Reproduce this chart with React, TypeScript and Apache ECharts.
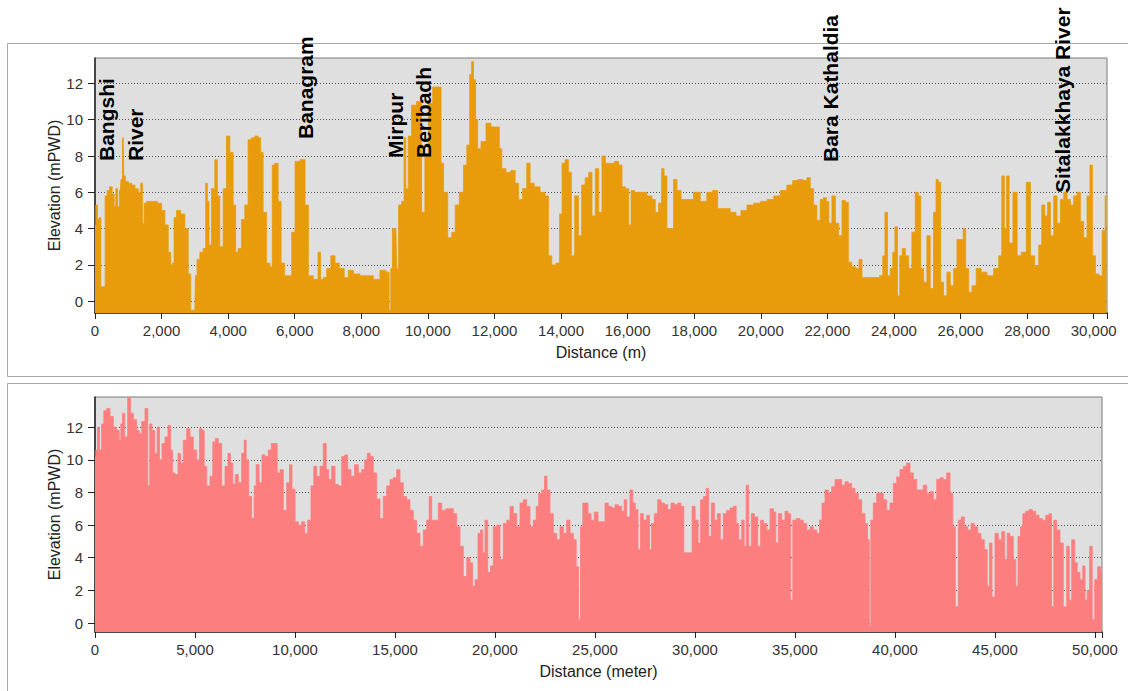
import React, { useEffect, useRef } from "react";
import * as echarts from "echarts";

// ---------- Top profile (Distance m, Elevation mPWD) ----------
const topProfileWest: [number, number][] = [
  [0, 4.2], [50, 5.3], [100, 4.5], [150, 4.6], [200, 0.8], [280, 0.8], [330, 5.8], [400, 6.1], [480, 6.3], [550, 5.9],
  [600, 5.2], [650, 6.2], [700, 5.2], [760, 6.1], [800, 6.7], [850, 9.0], [880, 6.9], [950, 6.6], [1050, 6.5], [1150, 6.4],
  [1250, 6.2], [1350, 6.0], [1400, 6.5], [1450, 4.3], [1500, 5.4], [1600, 5.5], [1800, 5.5], [1950, 5.4], [2050, 5.0], [2150, 4.2],
  [2250, 2.7], [2300, 2.0], [2350, 2.1], [2400, 4.6], [2500, 5.0], [2650, 4.8], [2750, 4.0], [2850, 1.5], [2900, -0.5], [3000, -0.5],
  [3030, 1.4], [3100, 2.3], [3200, 2.7], [3300, 2.9], [3350, 6.5], [3400, 5.5], [3450, 3.1], [3550, 6.2], [3650, 7.8], [3700, 5.8],
  [3800, 3.0], [3900, 6.2], [4000, 9.1], [4100, 8.2], [4200, 5.3], [4250, 2.7], [4350, 2.9], [4450, 4.5], [4550, 5.3], [4650, 8.9],
  [4750, 9.0], [4850, 9.1], [4950, 9.0], [5000, 8.2], [5100, 4.9], [5200, 2.1], [5300, 1.9], [5350, 7.5], [5450, 7.6], [5550, 5.5],
  [5630, 2.1], [5760, 1.4], [5860, 1.4], [5960, 3.8], [6060, 7.7], [6260, 7.8], [6360, 5.3], [6460, 1.4], [6660, 1.2], [6740, 2.7],
  [6810, 1.2], [6910, 1.3], [7010, 1.8], [7160, 2.5], [7260, 2.1], [7410, 1.8], [7560, 1.3], [7660, 1.7], [7860, 1.5], [8060, 1.4],
  [8260, 1.4], [8460, 1.2], [8660, 1.7], [8810, 1.6], [8860, -0.5], [8910, 1.8], [8960, 4.0], [9040, 4.0], [9080, 1.8], [9160, 5.3],
  [9260, 5.5], [9310, 9.0], [9360, 6.2], [9460, 9.1], [9560, 10.8], [9760, 11.0], [9860, 4.9], [9960, 8.0],
];
const topProfileMiddle: [number, number][] = [
  [10070, 10.9], [10220, 11.8], [10370, 11.8], [10420, 7.6], [10520, 6.0], [10670, 3.5], [10770, 3.8], [10870, 5.3], [11020, 6.0], [11120, 7.5],
  [11220, 8.6], [11290, 12.5], [11340, 13.2], [11400, 12.2], [11470, 10.0], [11520, 8.4], [11670, 8.8], [11820, 9.8], [11970, 9.6], [12120, 9.6],
  [12170, 8.4], [12270, 7.3], [12420, 7.1], [12570, 7.2], [12670, 6.5], [12770, 5.6], [12920, 6.2], [13020, 7.6], [13120, 6.5], [13270, 6.3],
  [13470, 6.0], [13570, 5.8], [13670, 2.5], [13770, 2.0], [13920, 2.1], [13990, 4.8], [14070, 7.6], [14170, 7.8], [14270, 7.1], [14350, 2.5],
  [14470, 5.8], [14570, 3.6], [14670, 6.4], [14780, 6.8], [14880, 7.1], [14980, 4.7], [15080, 7.3], [15180, 4.9], [15280, 8.0], [15380, 7.6],
  [15530, 7.6], [15680, 7.7], [15780, 7.5], [15880, 6.3], [15980, 6.2], [16080, 4.2], [16130, 6.1], [16280, 6.0], [16480, 6.0], [16680, 5.8],
  [16780, 5.6], [16880, 4.9], [16980, 5.4], [17060, 7.3], [17130, 6.9], [17230, 4.0], [17330, 4.0], [17430, 6.7], [17530, 6.1], [17680, 5.6],
  [17880, 5.6], [18080, 6.0], [18280, 5.5], [18480, 6.0], [18630, 6.1], [18780, 5.1], [18980, 5.1], [19180, 4.9], [19330, 4.7], [19480, 5.0],
  [19690, 5.3], [19890, 5.4], [20090, 5.5], [20290, 5.6],
];
const topProfileEast: [number, number][] = [
  [20490, 5.8], [20680, 6.1], [20885, 6.4], [21035, 6.65], [21185, 6.7], [21335, 6.65], [21435, 6.8], [21535, 6.2], [21635, 5.3], [21735, 4.45],
  [21835, 5.6], [21935, 5.7], [22005, 5.5], [22085, 4.3], [22190, 5.8], [22290, 4.3], [22390, 3.6], [22490, 5.55], [22590, 5.45], [22670, 2.15],
  [22790, 1.9], [22910, 1.8], [22990, 2.3], [23090, 1.3], [23290, 1.3], [23490, 1.3], [23640, 1.4], [23690, 2.5], [23770, 4.9], [23840, 1.4],
  [23940, 1.8], [23990, 2.7], [24070, 4.1], [24140, 0.3], [24210, 2.5], [24290, 2.9], [24390, 2.5], [24490, 1.8], [24590, 3.8], [24690, 6.0],
  [24770, 5.8], [24840, 1.8], [24940, 1.05], [25040, 3.6], [25140, 0.7], [25240, 4.9], [25290, 6.7], [25370, 6.55], [25440, 1.05], [25540, 0.3],
  [25640, 1.6], [25745, 0.85], [25845, 1.8], [25945, 3.4], [26045, 3.4], [26115, 4.0], [26195, 1.8], [26295, 0.5], [26395, 0.85], [26545, 1.8],
  [26695, 1.6], [26895, 1.4], [27095, 1.8], [27200, 2.5], [27280, 6.9], [27350, 4.0], [27420, 6.9], [27500, 3.2], [27650, 6.0], [27750, 2.5],
  [27900, 2.7], [28050, 6.55], [28150, 2.5], [28300, 1.95], [28400, 3.1], [28480, 5.3], [28580, 4.7], [28650, 5.45], [28750, 3.6], [28850, 5.8],
  [28950, 4.3], [29050, 5.6], [29150, 6.0], [29250, 5.6], [29350, 5.3], [29450, 5.8], [29550, 6.0], [29650, 4.4], [29750, 3.5], [29850, 5.8],
  [29925, 7.5], [30000, 2.5], [30105, 1.5], [30205, 1.4], [30305, 3.9], [30385, 5.8],
];

// ---------- Bottom profile (Distance meter, Elevation mPWD) ----------
const bottomProfileWest: [number, number][] = [
  [0, 10.2], [80, 10.6], [170, 12.0], [280, 10.6], [380, 12.2], [500, 13.0], [670, 13.15], [830, 12.65], [1000, 12.0], [1170, 11.8],
  [1250, 11.2], [1330, 12.2], [1420, 12.85], [1550, 11.4], [1720, 13.8], [1830, 12.85], [2000, 12.45], [2170, 11.8], [2250, 11.6], [2420, 12.35],
  [2580, 13.15], [2700, 8.4], [2780, 12.2], [2920, 11.8], [3050, 10.4], [3170, 12.0], [3280, 10.0], [3420, 11.0], [3580, 11.4], [3720, 12.1],
  [3830, 10.6], [3920, 9.2], [4080, 9.1], [4220, 10.4], [4330, 9.8], [4500, 11.2], [4670, 11.9], [4830, 11.4], [5000, 10.6], [5170, 10.0],
  [5280, 11.9], [5420, 11.8], [5500, 9.6], [5670, 8.4], [5830, 9.0], [5950, 11.1], [6080, 11.3], [6250, 11.0], [6420, 8.4], [6580, 9.6],
  [6720, 10.4], [6830, 9.8], [6950, 8.5], [7080, 9.1], [7250, 8.6], [7420, 10.4], [7500, 11.2], [7620, 10.0], [7750, 7.75], [7920, 6.4],
  [8000, 8.4], [8120, 9.7], [8280, 8.6], [8420, 10.3], [8580, 10.2], [8750, 10.6], [8880, 11.0], [9050, 11.0], [9170, 9.2], [9330, 9.4],
  [9500, 6.9], [9670, 8.6], [9780, 9.7], [9920, 8.2], [10080, 6.2], [10250, 6.0], [10420, 6.2], [10550, 5.5], [10720, 6.3], [10880, 8.4],
  [11000, 9.6], [11170, 9.0], [11330, 9.6], [11500, 11.0], [11620, 9.4], [11750, 8.8], [11920, 9.6], [12080, 8.5], [12250, 8.4], [12420, 10.2],
  [12550, 10.3], [12720, 9.4], [12880, 9.0], [13080, 9.7], [13250, 9.2], [13420, 9.4], [13550, 10.0], [13690, 10.4], [13830, 10.2], [14000, 9.2],
  [14170, 7.6], [14330, 6.4], [14500, 7.75], [14670, 8.4], [14830, 8.8], [15000, 8.9], [15170, 9.4], [15330, 8.6], [15500, 7.75], [15670, 7.55],
  [15830, 6.9], [16000, 6.3], [16170, 5.5], [16330, 4.7], [16500, 5.7], [16670, 6.3],
];
const bottomProfileMiddle: [number, number][] = [
  [16750, 7.75], [16920, 6.3], [17080, 6.3], [17250, 7.35], [17420, 6.9], [17670, 7.0], [17830, 7.0], [18000, 6.7], [18170, 5.9], [18330, 4.7],
  [18500, 2.85], [18670, 4.0], [18830, 3.7], [18920, 2.25], [19080, 2.65], [19220, 5.5], [19330, 5.7], [19450, 4.3], [19550, 6.3], [19720, 3.1],
  [19830, 3.5], [20000, 5.9], [20170, 6.0], [20330, 3.9], [20500, 6.1], [20670, 6.3], [20830, 7.15], [21000, 6.7], [21170, 5.9], [21330, 7.35],
  [21500, 7.55], [21670, 7.15], [21830, 5.9], [22000, 6.3], [22120, 7.15], [22250, 7.95], [22420, 8.15], [22530, 9.0], [22670, 8.15], [22830, 6.7],
  [23000, 5.5], [23170, 5.1], [23330, 5.9], [23500, 5.5], [23670, 6.3], [23830, 5.5], [24000, 5.1], [24120, 3.45], [24220, 0.2], [24330, 5.9],
  [24450, 7.35], [24580, 7.35], [24720, 6.7], [24880, 6.3], [25050, 6.8], [25250, 6.2], [25420, 6.2], [25580, 7.35], [25750, 7.15], [25920, 7.05],
  [26080, 7.25], [26250, 7.15], [26420, 6.85], [26500, 7.55], [26670, 6.5], [26830, 8.15], [26950, 7.35], [27080, 6.95], [27220, 4.5], [27330, 6.7],
  [27500, 6.3], [27670, 6.6], [27780, 4.5], [27880, 6.1], [28050, 6.7], [28220, 7.55], [28380, 7.35], [28550, 7.25], [28720, 6.95], [28880, 7.35],
  [29050, 7.25], [29220, 7.35], [29380, 7.15], [29500, 4.3], [29670, 4.3], [29790, 4.3], [29920, 7.15], [30090, 6.3], [30220, 4.9], [30340, 7.55],
  [30500, 7.75], [30620, 8.25], [30750, 5.3], [30890, 7.35], [31050, 6.3], [31190, 6.7], [31340, 5.1], [31500, 6.7], [31670, 6.9], [31840, 7.05],
  [32000, 7.15], [32120, 6.1], [32250, 5.1], [32420, 6.3], [32500, 4.7], [32620, 8.45], [32750, 4.7], [32890, 6.7], [33050, 6.5], [33220, 4.7],
  [33340, 6.3], [33500, 6.1], [33670, 5.7], [33840, 7.0],
];
const bottomProfileEast: [number, number][] = [
  [34000, 6.8], [34080, 4.9], [34250, 6.7], [34420, 6.3], [34580, 6.85], [34720, 6.7], [34830, 1.4], [34950, 6.3], [35170, 6.4], [35330, 6.3],
  [35500, 6.1], [35670, 5.7], [35830, 5.9], [36000, 5.7], [36170, 5.5], [36280, 6.3], [36420, 7.35], [36580, 8.15], [36750, 7.95], [36920, 8.35],
  [37080, 8.8], [37250, 8.8], [37420, 8.45], [37580, 8.65], [37750, 8.55], [37920, 8.25], [38080, 7.95], [38250, 7.55], [38420, 6.7], [38580, 6.1],
  [38670, 5.1], [38750, -0.2], [38830, 6.3], [39000, 7.35], [39170, 7.95], [39330, 7.95], [39500, 7.55], [39670, 6.9], [39830, 7.35], [40000, 8.55],
  [40170, 8.95], [40330, 9.4], [40500, 9.6], [40670, 9.8], [40830, 9.2], [41000, 8.8], [41170, 8.15], [41330, 8.15], [41500, 8.45], [41670, 7.95],
  [41830, 8.05], [42000, 7.55], [42170, 8.8], [42330, 8.9], [42500, 8.8], [42670, 9.2], [42830, 7.95], [42950, 5.9], [43080, 1.0], [43250, 6.3],
  [43380, 6.5], [43550, 5.9], [43720, 5.7], [43880, 6.1], [44050, 5.9], [44220, 5.5], [44380, 5.1], [44550, 4.5], [44670, 2.25], [44780, 4.9],
  [44920, 1.6], [45080, 5.5], [45250, 5.1], [45420, 5.6], [45550, 3.9], [45670, 5.5], [45830, 5.3], [46000, 3.9], [46080, 2.25], [46220, 5.3],
  [46330, 5.9], [46450, 6.7], [46620, 6.85], [46780, 6.95], [46950, 6.85], [47120, 6.6], [47280, 6.4], [47450, 6.3], [47620, 6.6], [47780, 6.7],
  [47880, 1.0], [48000, 6.3], [48170, 5.7], [48330, 4.9], [48500, 1.0], [48670, 4.7], [48750, 1.4], [48920, 5.1], [49050, 3.7], [49170, 3.1],
  [49330, 2.65], [49450, 3.5], [49550, 1.4], [49670, 2.0], [49800, 4.7], [49920, 0.2], [50050, 2.65], [50220, 3.45], [50340, 3.1],
];

const elevationTicks = [0, 2, 4, 6, 8, 10, 12];

const topAnnotations = [
  { name: "Bangshi", x: 106, y: 161 },
  { name: "River", x: 135, y: 161 },
  { name: "Banagram", x: 305, y: 139 },
  { name: "Mirpur", x: 395, y: 158 },
  { name: "Beribadh", x: 423, y: 158 },
  { name: "Bara Kathaldia", x: 830, y: 162 },
  { name: "Sitalakkhaya River", x: 1062, y: 193 },
];

const FONT = 'Arial, "Liberation Sans", sans-serif';
const ORANGE = "#E99C0B";
const SALMON = "#FC7E7E";

function xAxisFor(gridIndex: number, max: number, interval: number, name: string) {
  return {
    type: "value",
    gridIndex,
    min: 0,
    max,
    interval,
    name,
    nameLocation: "middle",
    nameGap: 31,
    nameMoveOverlap: false,
    nameTextStyle: { fontSize: 16, color: "#222", fontFamily: FONT },
    axisLine: { show: true, onZero: false, lineStyle: { color: "#222", width: 1.5 } },
    axisTick: { show: true, length: 6, lineStyle: { color: "#222" } },
    axisLabel: {
      fontSize: 15,
      color: "#333",
      fontFamily: FONT,
      margin: 10,
      formatter: (v: number) => (v % interval === 0 ? v.toLocaleString("en-US") : ""),
    },
    splitLine: { show: false },
  };
}

function yAxisFor(gridIndex: number, min: number, max: number) {
  return {
    type: "value",
    gridIndex,
    min,
    max,
    name: "Elevation (mPWD)",
    nameLocation: "middle",
    nameRotate: 90,
    nameGap: 33,
    nameMoveOverlap: false,
    nameTextStyle: { fontSize: 16, color: "#222", fontFamily: FONT },
    axisLine: { show: true, onZero: false, lineStyle: { color: "#222", width: 1.5 } },
    axisTick: { show: true, length: 7, customValues: elevationTicks, lineStyle: { color: "#222" } },
    axisLabel: { fontSize: 15, color: "#333", fontFamily: FONT, margin: 12, customValues: elevationTicks },
    splitLine: { show: false },
  };
}

function gridLines(axisIndex: number) {
  return {
    type: "line",
    xAxisIndex: axisIndex,
    yAxisIndex: axisIndex,
    data: [[0, 0]],
    symbol: "none",
    silent: true,
    lineStyle: { opacity: 0 },
    z: 1,
    markLine: {
      silent: true,
      z: 1,
      symbol: ["none", "none"],
      label: { show: false },
      lineStyle: { type: [1, 2], color: "#555", width: 1 },
      data: elevationTicks.map((v) => ({ yAxis: v })),
    },
  };
}

function profileSeries(axisIndex: number, data: [number, number][], color: string) {
  return {
    type: "line",
    xAxisIndex: axisIndex,
    yAxisIndex: axisIndex,
    data,
    step: "middle",
    symbol: "none",
    showSymbol: false,
    silent: true,
    z: 3,
    lineStyle: { color, width: 0.8 },
    areaStyle: { color, opacity: 1, origin: "start" },
  };
}

export default function App() {
  const ref = useRef<HTMLDivElement>(null);
  useEffect(() => {
    if (!ref.current) return;
    const chart = echarts.init(ref.current, null, { renderer: "svg" });
    const topData = [...topProfileWest, ...topProfileMiddle, ...topProfileEast];
    const bottomData = [...bottomProfileWest, ...bottomProfileMiddle, ...bottomProfileEast];
    chart.setOption({
      animation: false,
      backgroundColor: "#ffffff",
      textStyle: { fontFamily: FONT },
      grid: [
        { left: 95, top: 58, width: 1012, height: 255, show: true, backgroundColor: "#DFDFDF", borderColor: "#7a7a7a", borderWidth: 1 },
        { left: 95, top: 397, width: 1007, height: 235, show: true, backgroundColor: "#DFDFDF", borderColor: "#7a7a7a", borderWidth: 1 },
      ],
      xAxis: [xAxisFor(0, 30400, 2000, "Distance (m)"), xAxisFor(1, 50350, 5000, "Distance (meter)")],
      yAxis: [yAxisFor(0, -0.65, 13.4), yAxisFor(1, -0.55, 13.85)],
      series: [
        gridLines(0),
        profileSeries(0, topData, ORANGE),
        gridLines(1),
        profileSeries(1, bottomData, SALMON),
      ],
      graphic: [
        { type: "rect", silent: true, shape: { x: 7.5, y: 43.5, width: 1130, height: 333 }, style: { fill: "none", stroke: "#a8a8a8", lineWidth: 1 } },
        { type: "rect", silent: true, shape: { x: 7.5, y: 383.5, width: 1130, height: 330 }, style: { fill: "none", stroke: "#a8a8a8", lineWidth: 1 } },
        ...topAnnotations.map((a) => ({
          type: "text",
          silent: true,
          x: a.x,
          y: a.y,
          rotation: Math.PI / 2,
          z: 10,
          style: {
            text: a.name,
            fill: "#000",
            font: `bold 21px ${FONT}`,
            textAlign: "left",
            textVerticalAlign: "middle",
            align: "left",
            verticalAlign: "middle",
          },
        })),
      ],
    });
    return () => chart.dispose();
  }, []);
  return <div ref={ref} style={{ position: "absolute", left: 0, top: 0, width: 1128, height: 691 }} />;
}
